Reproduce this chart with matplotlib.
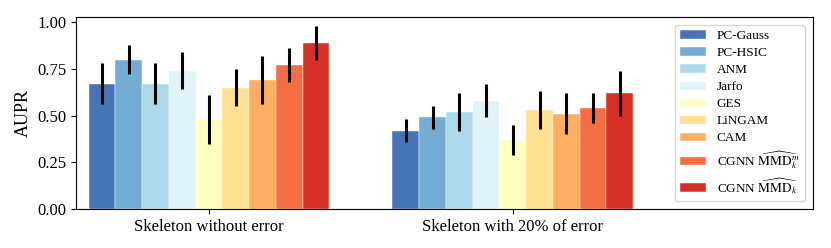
import matplotlib
matplotlib.use("Agg")
import matplotlib.pyplot as plt
import numpy as np

plt.rcParams['font.family'] = ['Liberation Serif', 'DejaVu Serif']
plt.rcParams['mathtext.fontset'] = 'stix'

groups = ['Skeleton without error', 'Skeleton with 20% of error']
methods = ['PC-Gauss', 'PC-HSIC', 'ANM', 'Jarfo', 'GES', 'LiNGAM', 'CAM',
           r'CGNN $\widehat{\mathrm{MMD}}_k^m$', r'CGNN $\widehat{\mathrm{MMD}}_k$']
colors = ['#4575b4', '#74add1', '#abd9e9', '#e0f3f8', '#ffffbf',
          '#fee090', '#fdae61', '#f46d43', '#d73027']

# AUPR per method, [without error, with 20% error]
aupr = [
    [0.67, 0.42],
    [0.80, 0.49],
    [0.67, 0.52],
    [0.74, 0.58],
    [0.48, 0.37],
    [0.65, 0.53],
    [0.69, 0.51],
    [0.77, 0.54],
    [0.89, 0.62],
]
aupr_err = [
    [0.11, 0.06],
    [0.08, 0.06],
    [0.11, 0.10],
    [0.10, 0.09],
    [0.13, 0.08],
    [0.10, 0.10],
    [0.13, 0.11],
    [0.09, 0.08],
    [0.09, 0.12],
]

fig = plt.figure(figsize=(8.31, 2.48), dpi=100)
ax = fig.add_axes([0.0915, 0.157, 0.8865, 0.774])

x = np.arange(len(groups))
width = 0.088
n = len(methods)
for i, (m, c) in enumerate(zip(methods, colors)):
    pos = x + (i - (n - 1) / 2) * width
    ax.bar(pos, aupr[i], width, color=c, label=m, edgecolor='white', linewidth=0.3)
    ax.errorbar(pos, aupr[i], yerr=aupr_err[i], fmt='none', ecolor='black',
                elinewidth=2.2, capsize=0)

ax.set_xticks(x)
ax.set_xticklabels(groups, fontsize=12)
ax.set_xlim(-0.4375, 1.987)
ax.set_ylim(0, 1.027)
ax.set_yticks([0, 0.25, 0.5, 0.75, 1.0])
ax.set_yticklabels(['0.00', '0.25', '0.50', '0.75', '1.00'], fontsize=12)
ax.set_ylabel('AUPR', fontsize=13)
for s in ax.spines.values():
    s.set_linewidth(0.8)

leg = ax.legend(loc='upper right', fontsize=9.5, frameon=True, fancybox=True,
                edgecolor='#cccccc', labelspacing=0.38, borderaxespad=0.6,
                handlelength=2.0, handleheight=0.6)

fig.savefig('out.png', dpi=100, facecolor='white')
